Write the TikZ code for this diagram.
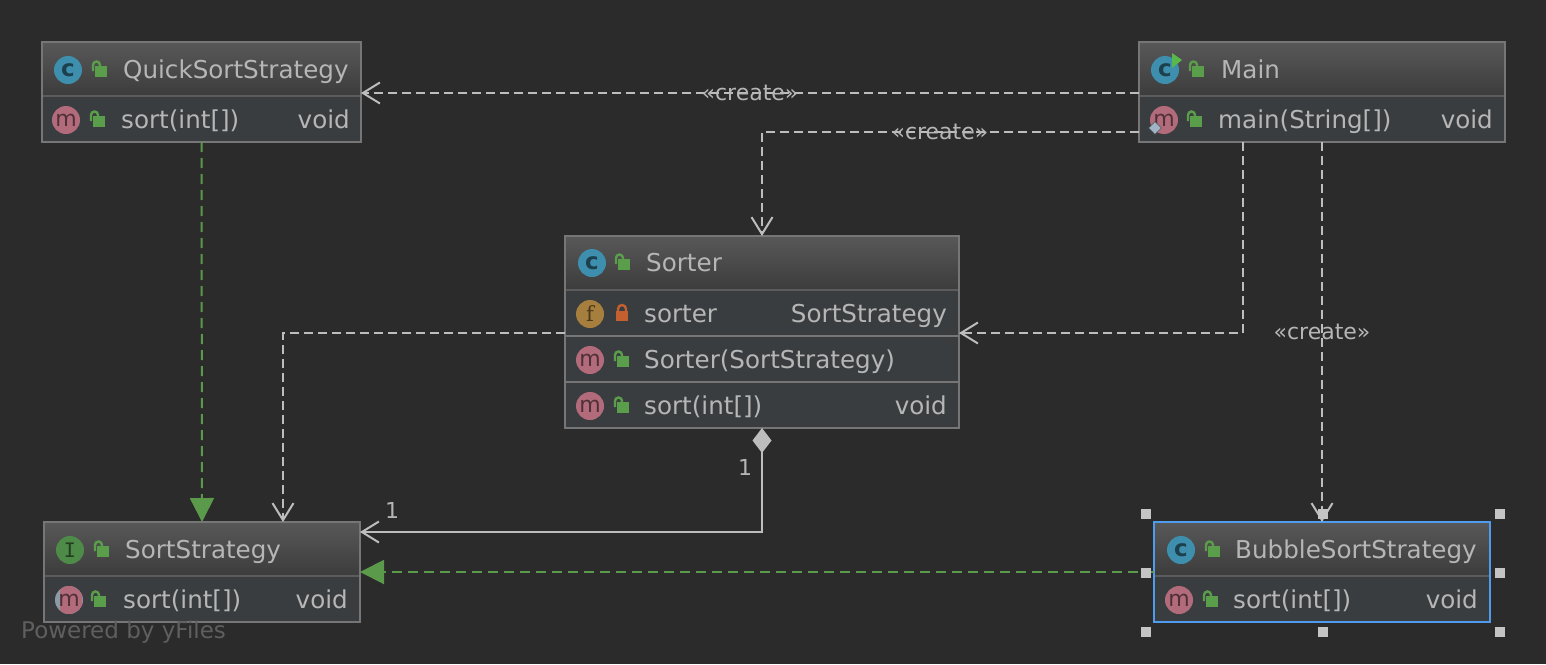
\documentclass[tikz,border=0pt]{standalone}
\usepackage{fontspec}
\setmainfont{DejaVu Sans}
\newfontfamily\iconfont{DejaVu Sans}
\newfontfamily\monofont{DejaVu Sans Mono}
\newfontfamily\seriffont{DejaVu Serif}
\usetikzlibrary{arrows.meta,calc,shapes.geometric}
\definecolor{canvas}{HTML}{2B2B2B}
\definecolor{rowfill}{HTML}{3A3D40}
\definecolor{headtop}{HTML}{585858}
\definecolor{headbot}{HTML}{3C3C3C}
\definecolor{edgegray}{HTML}{767676}
\definecolor{dimgray}{HTML}{5C5C5C}
\definecolor{inkgray}{HTML}{B6B6B6}
\definecolor{linegray}{HTML}{BDBDBD}
\definecolor{faintgray}{HTML}{5F5F5F}
\definecolor{realize}{HTML}{5A9A4A}
\definecolor{lockgreen}{HTML}{5A9E4B}
\definecolor{playgreen}{HTML}{59B84A}
\definecolor{lockred}{HTML}{C4602F}
\definecolor{selblue}{HTML}{4F9BEE}
\definecolor{handlegray}{HTML}{C4C4C4}
\definecolor{cIcon}{HTML}{3E8FAE}
\definecolor{mIcon}{HTML}{B26B7B}
\definecolor{fIcon}{HTML}{A67F3E}
\definecolor{iIcon}{HTML}{4E8A48}
\definecolor{ghostIcon}{HTML}{8B9AA5}
\definecolor{staticIcon}{HTML}{9FB4C4}
\tikzset{
    classhead/.style={
        draw=edgegray, line width=2pt, top color=headtop, bottom color=headbot,
        rectangle, inner sep=0pt, outer sep=0pt, anchor=north west
    },
    classrow/.style={
        draw=edgegray, line width=2pt, fill=rowfill,
        rectangle, inner sep=0pt, outer sep=0pt, anchor=north west
    },
    icon/.style={
        circle, minimum size=28pt, inner sep=0pt, text=#1!45!black,
        fill=#1, font=\iconfont\fontsize{22}{22}\selectfont
    },
    cicon/.style={
        icon=cIcon, font=\iconfont\bfseries\fontsize{23}{23}\selectfont
    },
    txt/.style={
        inner sep=0pt, text=inkgray, text height=21pt, text depth=4pt,
        font=\fontsize{24.6}{28}\selectfont
    },
    leftxt/.style={txt, anchor=west},
    rightxt/.style={txt, anchor=east},
    edgetxt/.style={txt, text height=18pt, font=\fontsize{22}{24}\selectfont},
    depends/.style={
        draw=linegray, line width=2pt, dash pattern=on 9pt off 5pt,
        -{Straight Barb[length=17pt,width=21pt,line width=2pt]}
    },
    realizes/.style={
        draw=realize, line width=2pt, dash pattern=on 10pt off 6pt,
        -{Triangle[length=24pt,width=24pt,fill=realize]}
    },
    grip/.style={
        fill=handlegray, rectangle, minimum size=10pt, inner sep=0pt
    },
    openlock/.pic={
        \fill[lockgreen] (-4,-3) rectangle (8,8);
        \draw[lockgreen, line width=2.4pt] (-6,2) -- (-6,-4) arc[start angle=180,end angle=360,radius=3.5] -- (1,-2);
    },
    shutlock/.pic={
        \fill[lockred] (-6,-2) rectangle (6,8);
        \draw[lockred, line width=2.4pt] (-4,-2) -- (-4,-4) arc[start angle=180,end angle=360,radius=4] -- (4,-2);
    }
}
\begin{document}
\begin{tikzpicture}[x=1pt,y=-1pt]
    \fill[canvas] (0,0) rectangle (1546,664);
    \useasboundingbox (0,0) rectangle (1546,664);

    % QuickSortStrategy
    \node[classhead, minimum width=319pt, minimum height=54pt] (quickhead) at (42,42) {};
    \node[classrow, minimum width=319pt, minimum height=46pt] (quickrow) at (quickhead.south west) {};
    \node[cicon] (quickc) at (68,70) {c};
    \pic at (99,69) {openlock};
    \node[leftxt] (quickname) at (123,70) {QuickSortStrategy};
    \node[icon=mIcon] (quickm) at (66,120) {m};
    \pic at (97,119) {openlock};
    \node[leftxt] (quicksort) at (121,120) {sort(int[])};
    \node[rightxt] (quickvoid) at (350,120) {void};

    % Main
    \node[classhead, minimum width=366pt, minimum height=54pt] (mainhead) at (1139,42) {};
    \node[classrow, minimum width=366pt, minimum height=46pt] (mainrow) at (mainhead.south west) {};
    \node[cicon] (mainc) at (1165,70) {c};
    \fill[playgreen] (1172,53) -- (1182,60) -- (1172,68) -- cycle;
    \pic at (1196,69) {openlock};
    \node[leftxt] (mainname) at (1221,70) {Main};
    \node[icon=mIcon] (mainm) at (1164,120) {m};
    \node[diamond, fill=staticIcon, draw=rowfill, minimum size=13pt, inner sep=0pt] (mainstatic) at (1155,128) {};
    \pic at (1194,119) {openlock};
    \node[leftxt] (mainmain) at (1218,120) {main(String[])};
    \node[rightxt] (mainvoid) at (1493,120) {void};

    % Sorter
    \node[classhead, minimum width=394pt, minimum height=54pt] (sorterhead) at (565,236) {};
    \node[classrow, minimum width=394pt, minimum height=46pt] (sorterfield) at (sorterhead.south west) {};
    \node[classrow, minimum width=394pt, minimum height=46pt] (sorterctor) at (sorterfield.south west) {};
    \node[classrow, minimum width=394pt, minimum height=46pt] (sortersort) at (sorterctor.south west) {};
    \node[cicon] (sorterc) at (592,263) {c};
    \pic at (622,262) {openlock};
    \node[leftxt] (sortername) at (646,263) {Sorter};
    \node[icon=fIcon, font=\seriffont\fontsize{21}{21}\selectfont] (sorterf) at (590,314) {f};
    \pic at (622,313) {shutlock};
    \node[leftxt] (sortervar) at (644,314) {sorter};
    \node[rightxt] (sortertype) at (947,314) {SortStrategy};
    \node[icon=mIcon] (sorterm) at (590,360) {m};
    \pic at (621,359) {openlock};
    \node[leftxt] (sortercall) at (644,360) {Sorter(SortStrategy)};
    \node[icon=mIcon] (sortern) at (590,406) {m};
    \pic at (621,405) {openlock};
    \node[leftxt] (sorterrun) at (644,406) {sort(int[])};
    \node[rightxt] (sortervoid) at (947,406) {void};

    % SortStrategy
    \node[classhead, minimum width=316pt, minimum height=54pt] (strategyhead) at (44,522) {};
    \node[classrow, minimum width=316pt, minimum height=46pt] (strategyrow) at (strategyhead.south west) {};
    \node[icon=iIcon, font=\monofont\fontsize{20}{20}\selectfont] (strategyi) at (70,550) {I};
    \pic at (101,549) {openlock};
    \node[leftxt] (strategyname) at (125,550) {SortStrategy};
    \node[circle, fill=ghostIcon, minimum size=28pt, inner sep=0pt] (strategyback) at (69,600) {};
    \begin{scope}
        \clip (60,586) rectangle (82,614);
        \node[icon=mIcon] (strategym) at (69,600) {m};
    \end{scope}
    \pic at (98,599) {openlock};
    \node[leftxt] (strategysort) at (123,600) {sort(int[])};
    \node[rightxt] (strategyvoid) at (348,600) {void};

    % BubbleSortStrategy
    \node[classhead, minimum width=336pt, minimum height=54pt] (bubblehead) at (1154,522) {};
    \node[classrow, minimum width=336pt, minimum height=46pt] (bubblerow) at (bubblehead.south west) {};
    \draw[selblue, line width=2pt] (bubblehead.north west) rectangle (bubblerow.south east);
    \node[cicon] (bubblec) at (1181,550) {c};
    \pic at (1212,549) {openlock};
    \node[leftxt] (bubblename) at (1235,550) {BubbleSortStrategy};
    \node[icon=mIcon] (bubblem) at (1179,600) {m};
    \pic at (1210,599) {openlock};
    \node[leftxt] (bubblesort) at (1233,600) {sort(int[])};
    \node[rightxt] (bubblevoid) at (1478,600) {void};

    % header rules
    \foreach \cls in {quick,main,sorter,strategy,bubble} {
        \draw[dimgray, line width=2pt, shorten <=1pt, shorten >=1pt] (\cls head.south west) -- (\cls head.south east);
    }

    % connectors
    \draw[depends] ([yshift=3pt]mainhead.south west) -- node[edgetxt, pos=0.5] (createquick) {«create»} ([yshift=3pt]quickhead.south east);
    \draw[depends] ([yshift=-13pt]mainrow.west) -| node[edgetxt, pos=0.264] (createsorter) {«create»} (sorterhead.north);
    \draw[depends] ([xshift=-79pt]mainrow.south) |- ([yshift=3pt]sorterfield.south east);
    \draw[depends] (mainrow.south) -- node[edgetxt, pos=0.5] (createbubble) {«create»} (bubblehead.north);
    \draw[depends] ([yshift=3pt]sorterfield.south west) -| ([xshift=81pt]strategyhead.north);
    \draw[draw=linegray, line width=2pt, {Diamond[length=25pt,width=19pt,fill=linegray]}-{Straight Barb[length=17pt,width=21pt,line width=2pt]}] (sortersort.south) |- ([yshift=-10pt]strategyhead.north east);
    \node[edgetxt] (onediamond) at (745,468) {1};
    \node[edgetxt] (onearrow) at (392,511) {1};
    \draw[realizes] (quickrow.south) -- (strategyhead.north);
    \draw[realizes] ([yshift=4pt]bubblehead.south west) -- ([yshift=4pt]strategyhead.south east);

    % selection handles
    \node[grip] (gripa) at (1146,514) {};
    \node[grip] (gripb) at (1323,514) {};
    \node[grip] (gripc) at (1500,514) {};
    \node[grip] (gripd) at (1146,573) {};
    \node[grip] (gripe) at (1500,573) {};
    \node[grip] (gripf) at (1146,632) {};
    \node[grip] (gripg) at (1323,632) {};
    \node[grip] (griph) at (1500,632) {};

    \node[anchor=west, inner sep=0pt, text=faintgray, font=\fontsize{23}{26}\selectfont] (poweredby) at (21,632) {Powered by yFiles};
\end{tikzpicture}
\end{document}
